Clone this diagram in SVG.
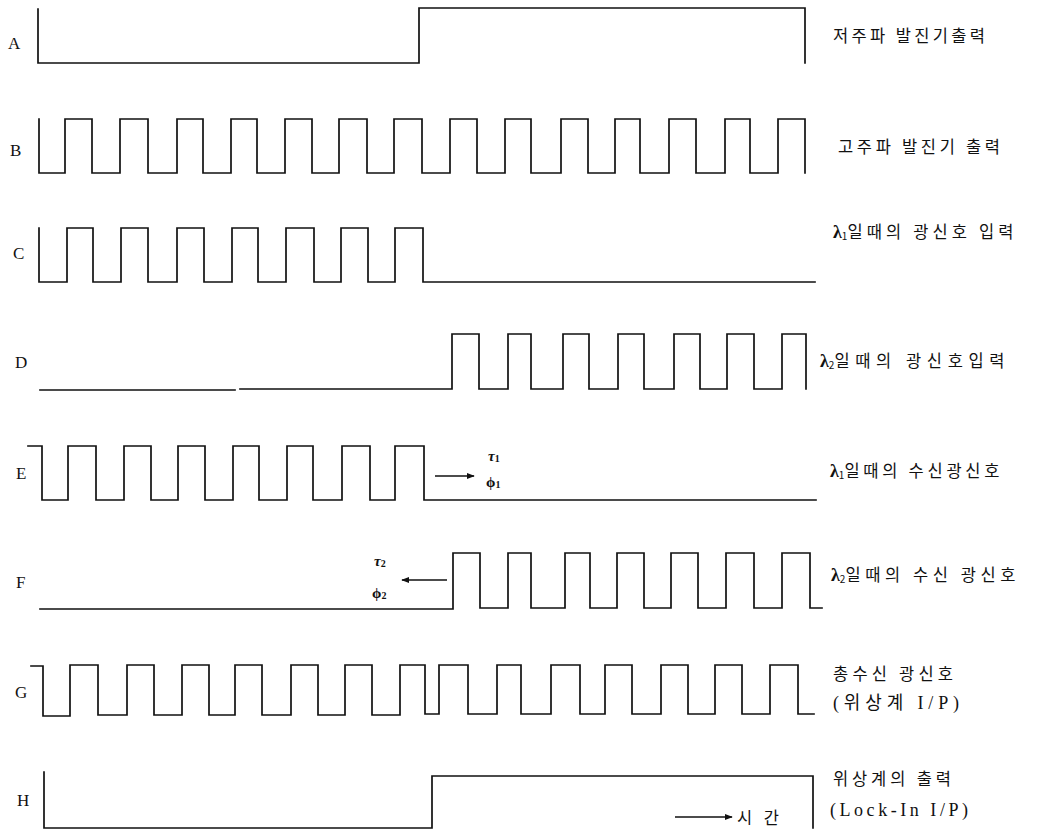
<svg xmlns="http://www.w3.org/2000/svg" width="1038" height="833" viewBox="0 0 1038 833">
<style>
.wave{fill:none;stroke:#111;stroke-width:1.7;stroke-linejoin:miter;stroke-linecap:square}
.lbl{font-family:"Liberation Serif","Noto Sans CJK KR",serif;font-size:17px;fill:#111}
.kr{font-family:"Noto Sans CJK KR","Liberation Serif",serif;font-size:16.5px;fill:#111}
.mix{font-family:"Liberation Serif","Noto Sans CJK KR",serif;font-size:18px;fill:#111}
.sym{font-family:"Liberation Serif","DejaVu Serif",serif;font-size:15px;fill:#111;font-weight:bold}
.lam{font-family:"Liberation Serif","DejaVu Serif",serif;font-size:18px;font-weight:bold}
.sub{font-size:10px}
.conn{fill:none;stroke:#111;stroke-width:1.6}
</style>
<defs>
<marker id="ah" viewBox="0 0 10 10" refX="9" refY="5" markerWidth="8" markerHeight="8" orient="auto" markerUnits="userSpaceOnUse">
<path d="M0,1 L10,5 L0,9 Z" fill="#111"/>
</marker>
</defs>
<rect width="1038" height="833" fill="#fff"/>

<g id="row-A">
<text class="lbl" x="8" y="49">A</text>
<path class="wave" d="M38,9 V63 H419 V8 H805 V63"/>
<text class="kr" x="833" y="42" textLength="152" lengthAdjust="spacing">저주파 발진기출력</text>
</g>

<g id="row-B">
<text class="lbl" x="10" y="156">B</text>
<path class="wave" d="M39,119 V173 H65 V119 H92 V173 H120 V119 H148 V173 H177 V119 H203 V173 H231 V119 H257 V173 H285 V119 H312 V173 H339 V119 H367 V173 H394 V119 H422 V173 H450 V119 H477 V173 H505 V119 H531 V173 H561 V119 H588 V173 H615 V119 H640 V173 H669 V119 H696 V173 H725 V119 H750 V173 H778 V119 H805 V173"/>
<text class="kr" x="838" y="153" textLength="162" lengthAdjust="spacing">고주파 발진기 출력</text>
</g>

<g id="row-C">
<text class="lbl" x="13" y="259">C</text>
<path class="wave" d="M39,228 V282 H67 V228 H93 V282 H121 V228 H148 V282 H177 V228 H204 V282 H232 V228 H258 V282 H286 V228 H314 V282 H341 V228 H368 V282 H395 V228 H423 V282 H815"/>
<text class="kr" x="833" y="238"><tspan class="lam">λ</tspan><tspan class="sub" dy="2">1</tspan><tspan dy="-2" textLength="166" lengthAdjust="spacing">일때의 광신호 입력</tspan></text>
</g>

<g id="row-D">
<text class="lbl" x="15" y="368">D</text>
<path class="wave" d="M40,390 H235 M240,389 H452 V334 H479 V389 H508 V334 H531 V389 H563 V334 H589 V389 H618 V334 H644 V389 H674 V334 H700 V389 H727 V334 H754 V389 H782 V334 H806 V389"/>
<text class="kr" x="820" y="367"><tspan class="lam">λ</tspan><tspan class="sub" dy="2">2</tspan><tspan dy="-2" textLength="170" lengthAdjust="spacing">일때의 광신호입력</tspan></text>
</g>

<g id="row-E">
<text class="lbl" x="16" y="479">E</text>
<path class="wave" d="M28,446 H42 V500 H68 V446 H96 V500 H124 V446 H151 V500 H178 V446 H205 V500 H233 V446 H259 V500 H287 V446 H313 V500 H342 V446 H370 V500 H395 V446 H424 V500 H816"/>
<text class="sym" x="488" y="461" font-style="italic">τ<tspan class="sub" dy="1" font-style="normal">1</tspan></text>
<text class="sym" x="486" y="487">ϕ<tspan class="sub" dy="1">1</tspan></text>
<text class="kr" x="830" y="477"><tspan class="lam">λ</tspan><tspan class="sub" dy="2">1</tspan><tspan dy="-2" textLength="155" lengthAdjust="spacing">일때의 수신광신호</tspan></text>
</g>

<g id="row-F">
<text class="lbl" x="16" y="588">F</text>
<path class="wave" d="M40,609 H453 V553 H480 V608 H508 V553 H531 V608 H565 V553 H590 V608 H617 V553 H644 V608 H671 V553 H698 V608 H726 V553 H754 V608 H782 V553 H810 V608 H822"/>
<text class="sym" x="374" y="566" font-style="italic">τ<tspan class="sub" dy="1" font-style="normal">2</tspan></text>
<text class="sym" x="372" y="598">ϕ<tspan class="sub" dy="1">2</tspan></text>
<text class="kr" x="831" y="581"><tspan class="lam">λ</tspan><tspan class="sub" dy="2">2</tspan><tspan dy="-2" textLength="170" lengthAdjust="spacing">일때의 수신 광신호</tspan></text>
</g>

<g id="row-G">
<text class="lbl" x="15" y="698">G</text>
<path class="wave" d="M31,666 H43 V716 H70 V665 H98 V715 H127 V665 H154 V715 H182 V665 H209 V715 H235 V665 H262 V715 H291 V665 H318 V715 H345 V665 H372 V715 H400 V665 H425 V714 H439 V665 H468 V714 H497 V665 H521 V714 H551 V665 H580 V714 H605 V665 H632 V714 H661 V665 H688 V714 H715 V665 H742 V714 H770 V665 H798 V714 H814"/>
<text class="kr" x="833" y="680" textLength="120" lengthAdjust="spacing">총수신 광신호</text>
<text class="mix" x="833" y="709" textLength="126" lengthAdjust="spacing">(위상계 I/P)</text>
</g>

<g id="row-H">
<text class="lbl" x="17" y="806">H</text>
<path class="wave" d="M44,772 V828 H432 V776 H813 V828"/>
<text class="kr" x="833" y="785" textLength="118" lengthAdjust="spacing">위상계의 출력</text>
<text class="mix" x="830" y="816" textLength="138" lengthAdjust="spacing">(Lock-In I/P)</text>
<text class="kr" x="737" y="824" textLength="42" lengthAdjust="spacing">시간</text>
</g>

<g id="connectors">
<line class="conn" x1="435" y1="476" x2="474" y2="476" marker-end="url(#ah)"/>
<line class="conn" x1="447" y1="580" x2="402" y2="580" marker-end="url(#ah)"/>
<line class="conn" x1="675" y1="817" x2="732" y2="817" marker-end="url(#ah)"/>
</g>
</svg>
